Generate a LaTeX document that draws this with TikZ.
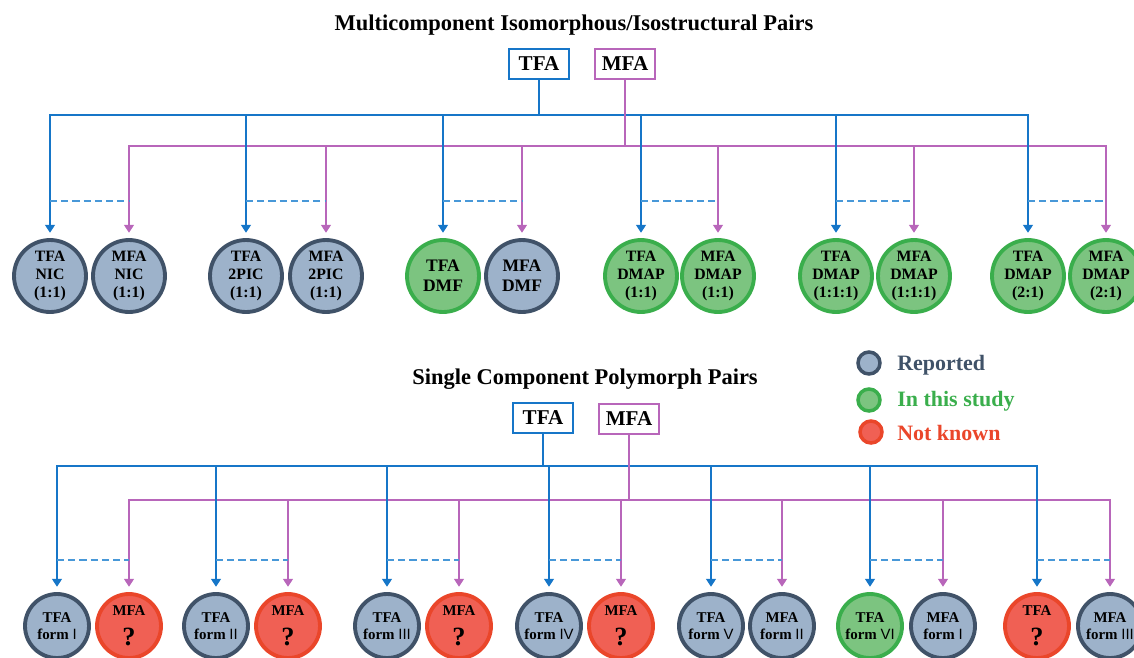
\documentclass[tikz,border=0pt]{standalone}
\usepackage{fontspec}
\setmainfont{Liberation Serif}
\newfontfamily\numfont{Liberation Sans}
\usepackage{tikz}
\usetikzlibrary{arrows.meta}

\definecolor{tfablue}{RGB}{22,118,200}
\definecolor{mfapink}{RGB}{184,102,186}
\definecolor{dashblue}{RGB}{72,152,216}
\definecolor{repfill}{RGB}{157,178,202}
\definecolor{repline}{RGB}{64,82,104}
\definecolor{studfill}{RGB}{124,196,128}
\definecolor{studline}{RGB}{58,174,76}
\definecolor{unkfill}{RGB}{240,96,84}
\definecolor{unkline}{RGB}{234,70,42}

\newcommand{\rn}[1]{{\numfont\mdseries #1}}
\newcommand{\qm}{{\fontsize{15}{15}\selectfont ?}}

\begin{document}
\begin{tikzpicture}[x=0.02cm, y=-0.02cm,
	tline/.style={draw=tfablue, line width=1.6pt},
	mline/.style={draw=mfapink, line width=1.6pt},
	arr/.style={-{Triangle[width=5.5pt,length=4.5pt]}, shorten >=3pt},
	pairline/.style={draw=dashblue, line width=1.4pt, dash pattern=on 4pt off 2.4pt},
	hdr/.style={draw, line width=1.5pt, minimum width=1.2cm, minimum height=0.6cm, inner sep=0pt, font=\bfseries\fontsize{12}{14}\selectfont},
	ttl/.style={font=\bfseries\fontsize{12.8}{15}\selectfont},
	topc/.style={circle, line width=2.2pt, minimum size=1.44cm, inner sep=0pt, align=center, font=\bfseries\fontsize{9}{10.3}\selectfont},
	botc/.style={circle, line width=2.2pt, minimum size=1.28cm, inner sep=0pt, align=center, font=\bfseries\fontsize{8.5}{9.7}\selectfont},
	rep/.style={draw=repline, fill=repfill},
	stud/.style={draw=studline, fill=studfill},
	unk/.style={draw=unkline, fill=unkfill},
	legc/.style={circle, line width=2pt, minimum size=0.44cm, inner sep=0pt},
	legt/.style={anchor=west, inner sep=0pt, font=\bfseries\fontsize{12.5}{14}\selectfont}]
	\useasboundingbox (0,0) rectangle (1134,657);

	% multicomponent pairs
	\node[ttl] (title1) at (574,25) {Multicomponent Isomorphous/Isostructural Pairs};
	\node[hdr, draw=tfablue] (tfa1) at (539,64) {TFA};
	\node[hdr, draw=mfapink] (mfa1) at (625,64) {MFA};
	\coordinate (tbus1) at (0,115);
	\coordinate (mbus1) at (0,146);
	\coordinate (dash1) at (0,201);

	\node[topc, rep] (tnic) at (50,276) {TFA\\NIC\\(1:1)};
	\node[topc, rep] (mnic) at (129,276) {MFA\\NIC\\(1:1)};
	\node[topc, rep] (tpic) at (246,276) {TFA\\2PIC\\(1:1)};
	\node[topc, rep] (mpic) at (326,276) {MFA\\2PIC\\(1:1)};
	\node[topc, stud, font=\bfseries\fontsize{10}{11.5}\selectfont] (tdmf) at (443,276) {TFA\\DMF};
	\node[topc, rep, font=\bfseries\fontsize{10}{11.5}\selectfont] (mdmf) at (522,276) {MFA\\DMF};
	\node[topc, stud] (tdmapa) at (641,276) {TFA\\DMAP\\(1:1)};
	\node[topc, stud] (mdmapa) at (718,276) {MFA\\DMAP\\(1:1)};
	\node[topc, stud] (tdmapb) at (836,276) {TFA\\DMAP\\(1:1:1)};
	\node[topc, stud] (mdmapb) at (914,276) {MFA\\DMAP\\(1:1:1)};
	\node[topc, stud] (tdmapc) at (1028,276) {TFA\\DMAP\\(2:1)};
	\node[topc, stud] (mdmapc) at (1106,276) {MFA\\DMAP\\(2:1)};

	\draw[tline] (tfa1) -- (tfa1 |- tbus1);
	\draw[tline, line cap=rect] (tnic |- tbus1) -- (tdmapc |- tbus1);
	\draw[mline] (mfa1) -- (mfa1 |- mbus1);
	\draw[mline, line cap=rect] (mnic |- mbus1) -- (mdmapc |- mbus1);
	\draw[tline, arr] (tnic |- tbus1) -- (tnic);
	\draw[tline, arr] (tpic |- tbus1) -- (tpic);
	\draw[tline, arr] (tdmf |- tbus1) -- (tdmf);
	\draw[tline, arr] (tdmapa |- tbus1) -- (tdmapa);
	\draw[tline, arr] (tdmapb |- tbus1) -- (tdmapb);
	\draw[tline, arr] (tdmapc |- tbus1) -- (tdmapc);
	\draw[mline, arr] (mnic |- mbus1) -- (mnic);
	\draw[mline, arr] (mpic |- mbus1) -- (mpic);
	\draw[mline, arr] (mdmf |- mbus1) -- (mdmf);
	\draw[mline, arr] (mdmapa |- mbus1) -- (mdmapa);
	\draw[mline, arr] (mdmapb |- mbus1) -- (mdmapb);
	\draw[mline, arr] (mdmapc |- mbus1) -- (mdmapc);
	\draw[pairline] (tnic |- dash1) -- (mnic |- dash1);
	\draw[pairline] (tpic |- dash1) -- (mpic |- dash1);
	\draw[pairline] (tdmf |- dash1) -- (mdmf |- dash1);
	\draw[pairline] (tdmapa |- dash1) -- (mdmapa |- dash1);
	\draw[pairline] (tdmapb |- dash1) -- (mdmapb |- dash1);
	\draw[pairline] (tdmapc |- dash1) -- (mdmapc |- dash1);

	% legend
	\node[legc, rep] (lrep) at (869,363) {};
	\node[legc, stud] (lstud) at (869,400) {};
	\node[legc, unk] (lunk) at (871,432) {};
	\node[legt, text=repline] (trep) at (897,365) {Reported};
	\node[legt, text=studline] (tstud) at (897,401) {In this study};
	\node[legt, text=unkline] (tunk) at (897,433) {Not known};

	% single component polymorphs
	\node[ttl] (title2) at (585,379) {Single Component Polymorph Pairs};
	\node[hdr, draw=tfablue] (tfa2) at (543,418) {TFA};
	\node[hdr, draw=mfapink] (mfa2) at (629,419) {MFA};
	\coordinate (tbus2) at (0,466);
	\coordinate (mbus2) at (0,500);
	\coordinate (dash2) at (0,560);

	\node[botc, rep] (tf1) at (57,626) {TFA\\form \rn{I}};
	\node[botc, unk] (mf1) at (129,626) {MFA\\[6pt]\qm};
	\node[botc, rep] (tf2) at (216,626) {TFA\\form \rn{II}};
	\node[botc, unk] (mf2) at (288,626) {MFA\\[6pt]\qm};
	\node[botc, rep] (tf3) at (387,626) {TFA\\form \rn{III}};
	\node[botc, unk] (mf3) at (459,626) {MFA\\[6pt]\qm};
	\node[botc, rep] (tf4) at (549,626) {TFA\\form \rn{IV}};
	\node[botc, unk] (mf4) at (621,626) {MFA\\[6pt]\qm};
	\node[botc, rep] (tf5) at (711,626) {TFA\\form \rn{V}};
	\node[botc, rep] (mf5) at (782,626) {MFA\\form \rn{II}};
	\node[botc, stud] (tf6) at (870,626) {TFA\\form \rn{VI}};
	\node[botc, rep] (mf6) at (943,626) {MFA\\form \rn{I}};
	\node[botc, unk] (tf7) at (1037,626) {TFA\\[6pt]\qm};
	\node[botc, rep] (mf7) at (1110,626) {MFA\\form \rn{III}};

	\draw[tline] (tfa2) -- (tfa2 |- tbus2);
	\draw[tline, line cap=rect] (tf1 |- tbus2) -- (tf7 |- tbus2);
	\draw[mline] (mfa2) -- (mfa2 |- mbus2);
	\draw[mline, line cap=rect] (mf1 |- mbus2) -- (mf7 |- mbus2);
	\draw[tline, arr] (tf1 |- tbus2) -- (tf1);
	\draw[tline, arr] (tf2 |- tbus2) -- (tf2);
	\draw[tline, arr] (tf3 |- tbus2) -- (tf3);
	\draw[tline, arr] (tf4 |- tbus2) -- (tf4);
	\draw[tline, arr] (tf5 |- tbus2) -- (tf5);
	\draw[tline, arr] (tf6 |- tbus2) -- (tf6);
	\draw[tline, arr] (tf7 |- tbus2) -- (tf7);
	\draw[mline, arr] (mf1 |- mbus2) -- (mf1);
	\draw[mline, arr] (mf2 |- mbus2) -- (mf2);
	\draw[mline, arr] (mf3 |- mbus2) -- (mf3);
	\draw[mline, arr] (mf4 |- mbus2) -- (mf4);
	\draw[mline, arr] (mf5 |- mbus2) -- (mf5);
	\draw[mline, arr] (mf6 |- mbus2) -- (mf6);
	\draw[mline, arr] (mf7 |- mbus2) -- (mf7);
	\draw[pairline] (tf1 |- dash2) -- (mf1 |- dash2);
	\draw[pairline] (tf2 |- dash2) -- (mf2 |- dash2);
	\draw[pairline] (tf3 |- dash2) -- (mf3 |- dash2);
	\draw[pairline] (tf4 |- dash2) -- (mf4 |- dash2);
	\draw[pairline] (tf5 |- dash2) -- (mf5 |- dash2);
	\draw[pairline] (tf6 |- dash2) -- (mf6 |- dash2);
	\draw[pairline] (tf7 |- dash2) -- (mf7 |- dash2);
\end{tikzpicture}
\end{document}
